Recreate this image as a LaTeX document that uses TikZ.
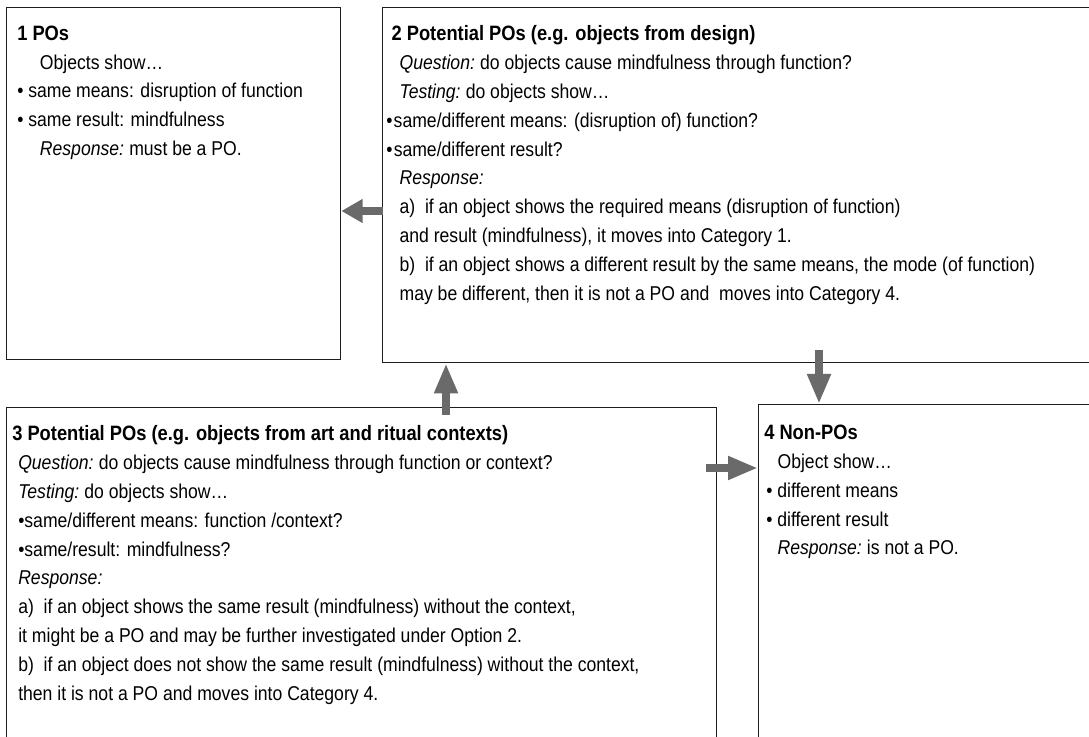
\documentclass[tikz,border=0pt]{standalone}
\usepackage{fontspec}
\setmainfont[FakeStretch=0.88]{Liberation Sans}
\usetikzlibrary{arrows.meta}
\definecolor{frame}{HTML}{1e1e1e}
\definecolor{flow}{HTML}{6a6a6a}
\newcommand{\cathead}[1]{{\fontsize{15.6}{21.6}\selectfont\bfseries #1}}
\tikzset{
  catbox/.style={draw=frame, line width=1pt, anchor=north west, inner sep=0pt},
  cattext/.style={anchor=north west, inner sep=0pt, align=left},
  flow/.style={draw=flow, line width=6pt, -{Triangle[length=22.5pt, width=16.5pt]}}
}

\begin{document}
\begin{tikzpicture}[x=0.75pt, y=-0.75pt, font=\fontsize{15}{21.6}\selectfont]
    \useasboundingbox (0,0) rectangle (1089,737);
    \clip (0,0) rectangle (1089,737);

    \node at (6, 7) (PO) [catbox, minimum width=250.5pt, minimum height=264pt] {};
    \node at (382, 7) (PPd) [catbox, minimum width=540pt, minimum height=266.25pt] {};
    \node at (6, 407) (PPa) [catbox, minimum width=532.5pt, minimum height=270pt] {};
    \node at (758, 404) (NPO) [catbox, minimum width=260pt, minimum height=270pt] {};

    \node at (17, 25.5) (PO-txt) [cattext] {\cathead{1 POs}\\
      \hspace*{17pt}Objects show\ldots\\
      \textbullet\ same means: disruption of function\\
      \textbullet\ same result: mindfulness\\
      \hspace*{17pt}\textit{Response:}\kern-1pt{} must be a PO.};
    \node at (386, 25.5) (PPd-txt) [cattext] {\hspace*{4pt}\cathead{2 Potential POs (e.g. objects from design)}\\
      \hspace*{10pt}\textit{Question:}\kern-1pt{} do objects cause mindfulness through function?\\
      \hspace*{10pt}\textit{Testing:}\kern-1pt{} do objects show\ldots\\
      \textbullet\kern1pt same/different means: (disruption of) function?\\
      \textbullet\kern1pt same/different result?\\
      \hspace*{10pt}\textit{Response:}\\
      \hspace*{10pt}a)\ \ if an object shows the required means (disruption of function)\\
      \hspace*{10pt}and result (mindfulness), it moves into Category 1.\\
      \hspace*{10pt}b)\ \ if an object shows a different result by the same means, the mode (of function)\\
      \hspace*{10pt}may be different, then it is not a PO and\ \ moves into Category 4.};
    \node at (12, 425.5) (PPa-txt) [cattext] {\cathead{3 Potential POs (e.g. objects from art and ritual contexts)}\\
      \hspace*{4.5pt}\textit{Question:}\kern-1pt{} do objects cause mindfulness through function or context?\\
      \hspace*{4.5pt}\textit{Testing:}\kern-1pt{} do objects show\ldots\\
      \hspace*{4.5pt}\textbullet{}same/different means: function /context?\\
      \hspace*{4.5pt}\textbullet{}same/result: mindfulness?\\
      \hspace*{4.5pt}\textit{Response:}\\
      \hspace*{4.5pt}a)\ \ if an object shows the same result (mindfulness) without the context,\\
      \hspace*{4.5pt}it might be a PO and may be further investigated under Option 2.\\
      \hspace*{4.5pt}b)\ \ if an object does not show the same result (mindfulness) without the context,\\
      \hspace*{4.5pt}then it is not a PO and moves into Category 4.};
    \node at (764, 425) (NPO-txt) [cattext] {\cathead{4 Non-POs}\\
      \hspace*{10pt}Object show\ldots\\
      \hspace*{1.5pt}\textbullet\ different means\\
      \hspace*{1.5pt}\textbullet\ different result\\
      \hspace*{10pt}\textit{Response:}\kern-1pt{} is not a PO.};

    \coordinate (PPd-out) at (383, 211);
    \coordinate (PPa-up) at (446, 415);
    \coordinate (PPd-down) at (819, 350);
    \coordinate (PPa-out) at (706, 468);

    \draw[flow, -{Triangle[length=16pt, width=17pt]}] (PPd-out) -- (PPd-out -| PO.east);
    \draw[flow] (PPa-up) -- (PPa-up |- PPd.south);
    \draw[flow] (PPd-down) -- (PPd-down |- NPO.north);
    \draw[flow] (PPa-out) -- (PPa-out -| NPO.west);
  \end{tikzpicture}
\end{document}
